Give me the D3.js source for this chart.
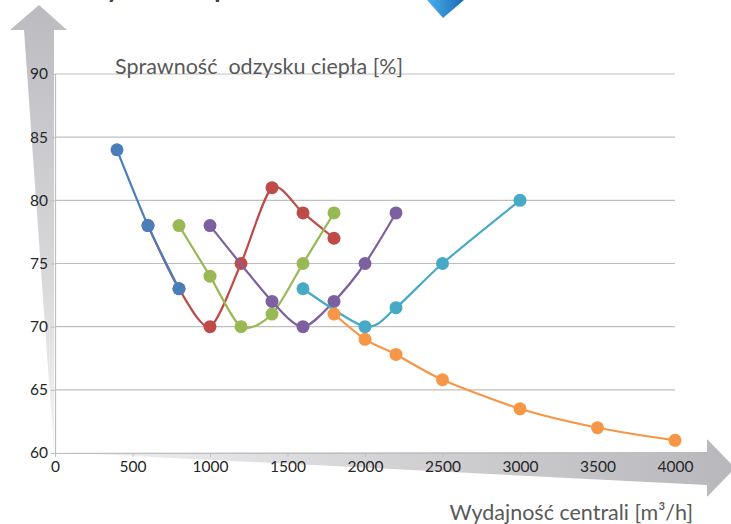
<!DOCTYPE html>
<html><head><meta charset="utf-8">
<script src="https://cdnjs.cloudflare.com/ajax/libs/d3/7.8.5/d3.min.js"></script>
<style>html,body{margin:0;padding:0;background:#fff;overflow:hidden}svg{display:block}</style>
</head><body><svg id="c" width="731" height="524"></svg>
<script>
const xTicks = [0, 500, 1000, 1500, 2000, 2500, 3000, 3500, 4000];
const yTicks = [60, 65, 70, 75, 80, 85, 90];
const seriesNames = ["red", "blue", "green", "purple", "cyan", "orange"];
const redX = [600, 800, 1000, 1200, 1400, 1600, 1800];
const redY = [78, 73, 70, 75, 81, 79, 77];
const blueX = [400, 600, 800];
const blueY = [84, 78, 73];
const greenX = [800, 1000, 1200, 1400, 1600, 1800];
const greenY = [78, 74, 70, 71, 75, 79];
const purpleX = [1000, 1400, 1600, 1800, 2000, 2200];
const purpleY = [78, 72, 70, 72, 75, 79];
const cyanX = [1600, 2000, 2200, 2500, 3000];
const cyanY = [73, 70, 71.5, 75, 80];
const orangeX = [1800, 2000, 2200, 2500, 3000, 3500, 4000];
const orangeY = [71, 69, 67.8, 65.8, 63.5, 62, 61];
const colors = {red:"#be4b48", blue:"#4a7ebb", green:"#98b954", purple:"#7d60a0", cyan:"#46aac5", orange:"#f79646"};
const yTitle = "Sprawność  odzysku ciepła [%]";
const xTitle = "Wydajność centrali [m³/h]";
const topTitle = "Wykres sprawności";

const svg = d3.select("#c");
const font = "Lato, 'Open Sans', sans-serif";
const x = d3.scaleLinear().domain([0, 4000]).range([55, 675]);
const y = d3.scaleLinear().domain([60, 90]).range([453, 74]);
const defs = svg.append("defs");

// cut title at top (only descenders visible, as in the reference)
svg.append("text").attr("x", 68).attr("y", -4).attr("font-family", font).attr("font-size", 36)
  .attr("fill", "#404040").text(topTitle);

// blue icon
const bg = defs.append("linearGradient").attr("id","bi").attr("x1","0").attr("x2","1").attr("y1","0").attr("y2","0");
bg.append("stop").attr("offset","0").attr("stop-color","#4ab0ec");
bg.append("stop").attr("offset","1").attr("stop-color","#1a6cb5");
svg.append("path").attr("d","M427,0 L464,0 L443,18 Z").attr("fill","url(#bi)");

// vertical arrow
const vg = defs.append("linearGradient").attr("id","vg").attr("x1","0").attr("x2","0").attr("y1","0").attr("y2","1");
vg.append("stop").attr("offset","0").attr("stop-color","#bcbcc0");
vg.append("stop").attr("offset","0.6").attr("stop-color","#d8d8db");
vg.append("stop").attr("offset","1").attr("stop-color","#f7f7f8");
svg.append("path").attr("d","M39,5 L67,30 L54,30 L54,453 L24,30 L10,30 Z").attr("fill","url(#vg)");

// horizontal arrow
const hg = defs.append("linearGradient").attr("id","hg").attr("x1","0").attr("x2","1").attr("y1","0").attr("y2","0");
hg.append("stop").attr("offset","0").attr("stop-color","#f4f4f5");
hg.append("stop").attr("offset","0.5").attr("stop-color","#d2d2d5");
hg.append("stop").attr("offset","1").attr("stop-color","#b8b8bc");
svg.append("path").attr("d","M54,452 L707,452 L707,439 L735,468 L707,497 L707,485 Z").attr("fill","url(#hg)");

// gridlines
svg.append("g").selectAll("line").data(yTicks.slice(1)).join("line")
  .attr("x1", x(0)).attr("x2", x(4000)).attr("y1", d => y(d)).attr("y2", d => y(d))
  .attr("stroke", "#bfbfbf").attr("stroke-width", 1.2);

// axes
const xa = svg.append("g").attr("transform", `translate(0,${y(60)})`)
  .call(d3.axisBottom(x).tickValues(xTicks).tickFormat(d3.format("d")).tickSize(4).tickPadding(4));
const ya = svg.append("g").attr("transform", `translate(${x(0)},0)`)
  .call(d3.axisLeft(y).tickValues(yTicks).tickFormat(d3.format("d")).tickSize(4).tickPadding(3));
[xa, ya].forEach(g => {
  g.select(".domain").attr("stroke", "#bfbfbf").attr("stroke-width", 1.2);
  g.selectAll(".tick line").attr("stroke", "#bfbfbf");
  g.selectAll("text").attr("font-family", font).attr("font-size", 15.5).attr("fill", "#262626");
});

// series
const all = {
  red: redX.map((v,i)=>[v, redY[i]]),
  blue: blueX.map((v,i)=>[v, blueY[i]]),
  green: greenX.map((v,i)=>[v, greenY[i]]),
  purple: purpleX.map((v,i)=>[v, purpleY[i]]),
  cyan: cyanX.map((v,i)=>[v, cyanY[i]]),
  orange: orangeX.map((v,i)=>[v, orangeY[i]])
};
const line = d3.line().x(d => x(d[0])).y(d => y(d[1])).curve(d3.curveCardinal.tension(0.2));
seriesNames.forEach(n => {
  const g = svg.append("g");
  g.append("path").attr("d", line(all[n])).attr("fill", "none").attr("stroke", colors[n]).attr("stroke-width", 2.2);
  g.selectAll("circle").data(all[n]).join("circle")
    .attr("cx", d => x(d[0])).attr("cy", d => y(d[1])).attr("r", 6.5).attr("fill", colors[n]);
});

// titles
svg.append("text").attr("x", 115).attr("y", 74).attr("font-family", font).attr("font-size", 21.5)
  .attr("fill", "#595959").style("white-space","pre").text(yTitle);
svg.append("text").attr("x", 693).attr("y", 520).attr("text-anchor","end").attr("font-family", font).attr("font-size", 21.5)
  .attr("fill", "#595959").text(xTitle);
</script></body></html>
